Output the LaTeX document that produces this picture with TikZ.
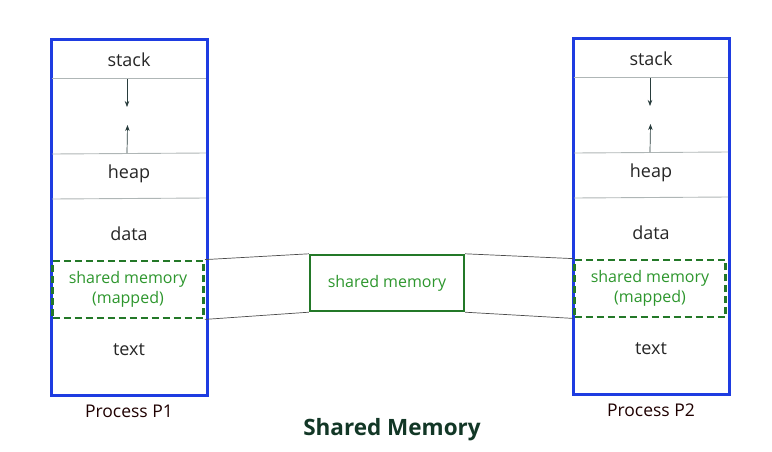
\documentclass[tikz,border=0pt]{standalone}
\usepackage{fontspec}
\setmainfont{Open Sans}
\usetikzlibrary{arrows.meta}
\definecolor{pblue}{RGB}{30,60,225}
\definecolor{dgreen}{RGB}{35,120,40}
\definecolor{tgreen}{RGB}{45,150,45}
\definecolor{titlec}{RGB}{18,55,38}
\definecolor{divc}{RGB}{175,182,182}
\definecolor{arrc}{RGB}{40,60,60}
\tikzset{
  procbox/.style={draw=pblue,line width=3pt,minimum width=156pt,minimum height=356pt,inner sep=0pt},
  mapped/.style={draw=dgreen,line width=2.8pt,dash pattern=on 7pt off 4pt,minimum width=151pt,minimum height=57pt,inner sep=0pt,text=tgreen,align=center,font=\fontsize{16}{19.5}\selectfont},
  shbox/.style={draw=dgreen,line width=2.4pt,minimum width=154pt,minimum height=56pt,inner sep=0pt,text=tgreen,font=\fontsize{16}{18}\selectfont},
  seglabel/.style={text=black!85,font=\fontsize{18}{21}\selectfont,inner sep=0pt},
  proclabel/.style={text=black!80!red!60!black,font=\fontsize{17.5}{21}\selectfont,inner sep=0pt},
  divider/.style={draw=divc,line width=0.9pt},
  growarrow/.style={draw=arrc,line width=0.7pt,-{Stealth[length=6pt,width=4.5pt]}},
  link/.style={draw=black!70,line width=0.7pt}
}
\begin{document}
\begin{tikzpicture}[x=1pt,y=-1pt]
\useasboundingbox (0,0) rectangle (772,451);
% process 1
\node[procbox] (p1) at (129,217) {};
\coordinate (p1d1l) at (52,78); \coordinate (p1d1r) at (206,78);
\coordinate (p1d2l) at (52,154); \coordinate (p1d2r) at (206,153);
\coordinate (p1d3l) at (52,199); \coordinate (p1d3r) at (206,198);
\draw[divider] (p1d1l) -- (p1d1r);
\draw[divider] (p1d2l) -- (p1d2r);
\draw[divider] (p1d3l) -- (p1d3r);
\coordinate (p1a1s) at (127,79); \coordinate (p1a1e) at (127,107);
\coordinate (p1a2s) at (127,153); \coordinate (p1a2e) at (127.5,125);
\draw[growarrow] (p1a1s) -- (p1a1e);
\draw[growarrow] (p1a2s) -- (p1a2e);
\node[seglabel] (p1stack) at (129,60) {stack};
\node[seglabel] (p1heap) at (129,174) {heap};
\node[seglabel] (p1data) at (129,234) {data};
\node[seglabel] (p1text) at (129,350) {text};
\node[mapped] (sm1) at (128,289.5) {shared memory\\(mapped)};
\node[proclabel] (p1lab) at (129,411) {Process P1};
% process 2
\node[procbox] (p2) at (651,216) {};
\coordinate (p2d1l) at (574,77); \coordinate (p2d1r) at (728,77);
\coordinate (p2d2l) at (574,153); \coordinate (p2d2r) at (728,152);
\coordinate (p2d3l) at (574,198); \coordinate (p2d3r) at (728,197);
\draw[divider] (p2d1l) -- (p2d1r);
\draw[divider] (p2d2l) -- (p2d2r);
\draw[divider] (p2d3l) -- (p2d3r);
\coordinate (p2a1s) at (650,78); \coordinate (p2a1e) at (650,106);
\coordinate (p2a2s) at (650,152); \coordinate (p2a2e) at (650.5,124);
\draw[growarrow] (p2a1s) -- (p2a1e);
\draw[growarrow] (p2a2s) -- (p2a2e);
\node[seglabel] (p2stack) at (651,59) {stack};
\node[seglabel] (p2heap) at (651,173) {heap};
\node[seglabel] (p2data) at (651,233) {data};
\node[seglabel] (p2text) at (651,349) {text};
\node[mapped] (sm2) at (650,288.5) {shared memory\\(mapped)};
\node[proclabel] (p2lab) at (651,410) {Process P2};
% shared memory
\node[shbox] (shm) at (387,283) {shared memory};
\draw[link] (sm1.north east) -- (shm.north west);
\draw[link] (sm1.south east) -- (shm.south west);
\draw[link] (shm.north east) -- (sm2.north west);
\draw[link] (shm.south east) -- (sm2.south west);
\node[text=titlec,font=\fontsize{22.5}{26}\selectfont\bfseries,inner sep=0pt] (title) at (392,430) {Shared Memory};
\end{tikzpicture}
\end{document}
